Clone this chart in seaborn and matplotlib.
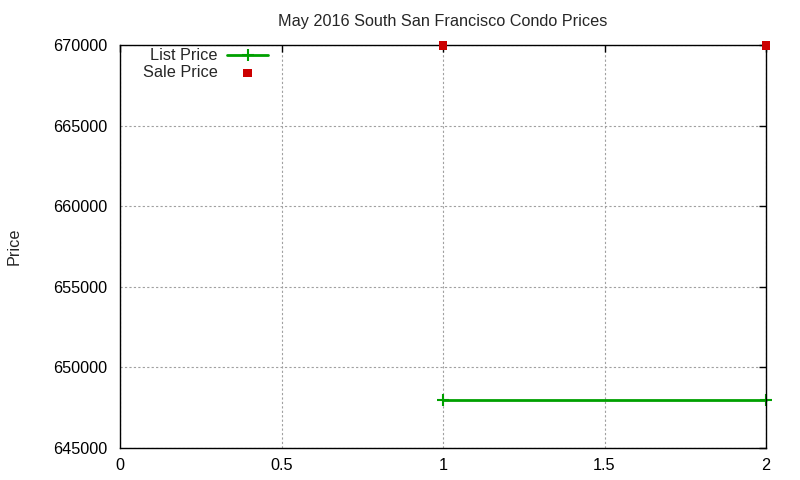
import matplotlib
matplotlib.use("Agg")
import matplotlib.pyplot as plt
import seaborn as sns
import pandas as pd

x_vals = [1, 2]
list_price = [648000, 648000]
sale_price = [670000, 670000]
x_ticks = [0, 0.5, 1, 1.5, 2]
x_tick_labels = ["0", "0.5", "1", "1.5", "2"]
y_ticks = [645000, 650000, 655000, 660000, 665000, 670000]
title = "May 2016 South San Francisco Condo Prices"

sns.set_style("white")
plt.rcParams['font.family'] = ['Liberation Sans', 'DejaVu Sans']

df_list = pd.DataFrame({"x": x_vals, "y": list_price})
df_sale = pd.DataFrame({"x": x_vals, "y": sale_price})

FS = 11.7
green = "#00a000"
fig = plt.figure(figsize=(8, 4.8), dpi=100)
ax = fig.add_axes([0.15, 0.0667, 0.8075, 0.8393])

sns.lineplot(data=df_list, x="x", y="y", ax=ax, color=green, linewidth=2,
             marker="+", markersize=8, label="List Price")
sns.scatterplot(data=df_sale, x="x", y="y", ax=ax, color="#cc0000", marker="s",
                s=40, edgecolor="none", label="Sale Price", zorder=5, clip_on=False)
for l in ax.lines:
    l.set_clip_on(False)
    l.set_markeredgecolor(green)
    l.set_markerfacecolor(green)
    l.set_markeredgewidth(1.5)

ax.set_xlim(0, 2)
ax.set_ylim(645000, 670000)
ax.set_xticks(x_ticks)
ax.set_xticklabels(x_tick_labels)
ax.set_yticks(y_ticks)
ax.set_yticklabels([str(v) for v in y_ticks])
ax.tick_params(direction="in", top=True, right=True, length=5, width=1,
               labelsize=FS, colors="black")
ax.tick_params(axis="y", pad=9)
ax.tick_params(axis="x", pad=7)
ax.grid(True, color="#a0a0a0", linestyle=(0, (2, 2)), linewidth=0.8)
for s in ax.spines.values():
    s.set_color("black")
    s.set_linewidth(1)
ax.set_xlabel("")
ax.set_ylabel("Price", fontsize=FS, labelpad=23)
ax.set_title(title, fontsize=FS, pad=14)

leg = ax.legend(loc="upper left", markerfirst=False, frameon=False, fontsize=FS,
                handlelength=2.5, borderaxespad=0.0, bbox_to_anchor=(0.025, 1.008),
                labelspacing=0.12, handletextpad=0.6)
for h in leg.legend_handles:
    try:
        h.set_markeredgecolor(green)
        h.set_markeredgewidth(1.5)
    except AttributeError:
        pass
for t in leg.get_texts():
    t.set_ha("right")

fig.savefig("out.png", dpi=100)
